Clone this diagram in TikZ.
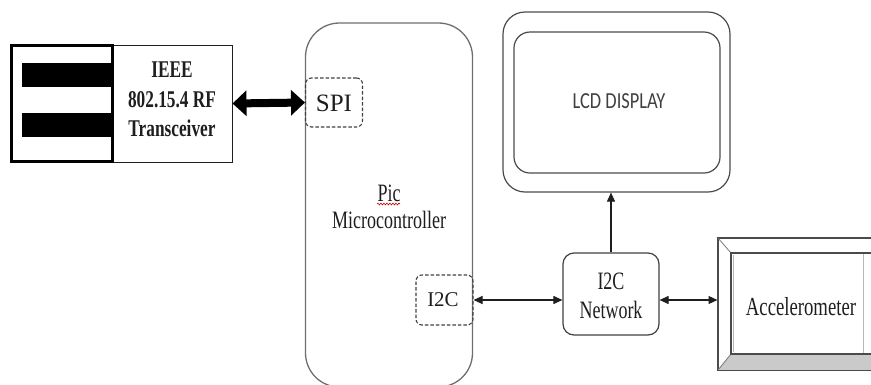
\documentclass[tikz,border=0pt]{standalone}
\usepackage{fontspec}
\setmainfont[FakeStretch=0.72]{Liberation Serif}
\newfontfamily\plainserif{Liberation Serif}
\newfontfamily\lcdfont[FakeStretch=0.8]{Carlito}
\usetikzlibrary{arrows.meta,decorations.pathmorphing,calc}
\definecolor{ink}{HTML}{1E1E1E}
\definecolor{edge}{HTML}{6E6E6E}
\definecolor{bevel}{HTML}{CACACA}
\tikzset{
  port/.style={draw=ink!85, dashed, dash pattern=on 3.5pt off 2pt, line width=1.1pt, rounded corners=6pt},
  label/.style={text=ink, inner sep=0pt},
  thinlink/.style={draw=ink, line width=1.1pt, {Triangle[length=9pt,width=8pt]}-{Triangle[length=9pt,width=8pt]}},
  uplink/.style={draw=ink, line width=1.1pt, -{Triangle[length=9pt,width=8pt]}},
  fatlink/.style={draw=black, line width=8pt, {Triangle[length=14pt,width=25pt]}-{Triangle[length=14pt,width=25pt]}},
}
\begin{document}
\begin{tikzpicture}[x=1pt,y=-1pt]
\useasboundingbox (0,0) rectangle (871,384);

% RF transceiver: antenna block with bars and label block
\node[draw=ink, line width=1pt, minimum width=119pt, minimum height=117pt, inner sep=0pt] (trx) at (172.5,103.5) {};
\node[draw=black, line width=3pt, minimum width=101pt, minimum height=116pt, inner sep=0pt] (ant) at (62,103.5) {};
\fill[black] (22,63) rectangle (112,87);
\fill[black] (22,113) rectangle (112,137);
\node[label, font=\bfseries\fontsize{24}{24}\selectfont] (t1) at (172,70) {IEEE};
\node[label, font=\bfseries\fontsize{24}{24}\selectfont] (t2) at (172,100) {802.15.4 RF};
\node[label, font=\bfseries\fontsize{24}{24}\selectfont] (t3) at (172,128) {Transceiver};

% PIC microcontroller with its two ports
\node[draw=edge, line width=1.3pt, rounded corners=34pt, minimum width=167pt, minimum height=364pt, inner sep=0pt] (mcu) at (389,205) {};
\node[label, font=\fontsize{25}{25}\selectfont] (pic) at (389,193) {Pic};
\draw[red!80!black, line width=0.6pt, decorate, decoration={snake, amplitude=0.9pt, segment length=3pt}] (377,204) -- (400,204);
\node[label, font=\fontsize{25}{25}\selectfont] (mctext) at (389,220) {Microcontroller};
\node[port, minimum width=57pt, minimum height=49pt, inner sep=0pt] (spi) at (334,102.5) {};
\node[label, font=\plainserif\fontsize{25}{25}\selectfont] (spit) at (334,103) {SPI};
\node[port, minimum width=57pt, minimum height=50pt, inner sep=0pt] (i2cm) at (444.5,300) {};
\node[label, font=\plainserif\fontsize{21}{21}\selectfont] (i2cmt) at (443,300) {I2C};

% LCD display, double rounded frame
\node[draw=ink!80, line width=1.2pt, rounded corners=22pt, minimum width=227pt, minimum height=180pt, inner sep=0pt] (lcd) at (616.5,102) {};
\node[draw=ink!80, line width=1.2pt, rounded corners=16pt, minimum width=206pt, minimum height=141pt, inner sep=0pt] (lcdin) at (617,102.5) {};
\node[label, text=ink!85, font=\lcdfont\fontsize{23}{23}\selectfont] (lcdt) at (619,101) {LCD DISPLAY};

% I2C network hub
\node[draw=ink!85, line width=1.2pt, rounded corners=11pt, minimum width=96pt, minimum height=82pt, inner sep=0pt] (net) at (611,294) {};
\node[label, font=\fontsize{25}{25}\selectfont] (nett1) at (611,281) {I2C};
\node[label, font=\fontsize{25}{25}\selectfont] (nett2) at (611,310) {Network};

% Accelerometer, bevelled frame running past the right edge
\node[draw=ink!80, line width=1pt, minimum width=160pt, minimum height=132pt, inner sep=0pt] (accout) at (798,304) {};
\fill[bevel] (718,370) -- (731,354) -- (880,354) -- (880,370) -- cycle;
\draw[ink!60, line width=0.8pt] (718,238) -- (731,253) (718,370) -- (731,354);
\draw[edge!50, line width=0.6pt] (863,253) -- (863,354) (733.5,255) -- (733.5,352);
\node[draw=ink!80, line width=1.2pt, minimum width=150pt, minimum height=101pt, inner sep=0pt] (acc) at (806,303.5) {};
\node[label, font=\fontsize{26}{26}\selectfont] (acct) at (801,307) {Accelerometer};
\draw[ink!80, line width=1pt] (accout.north west) rectangle (accout.south east);

% connections
\draw[fatlink] (trx.east) -- (spi.west);
\draw[thinlink] (i2cm.east) -- (i2cm.east -| net.west);
\draw[thinlink] (i2cm.east -| net.east) -- (i2cm.east -| accout.west);
\draw[uplink] (net.north) -- (net.north |- lcd.south);
\end{tikzpicture}
\end{document}
